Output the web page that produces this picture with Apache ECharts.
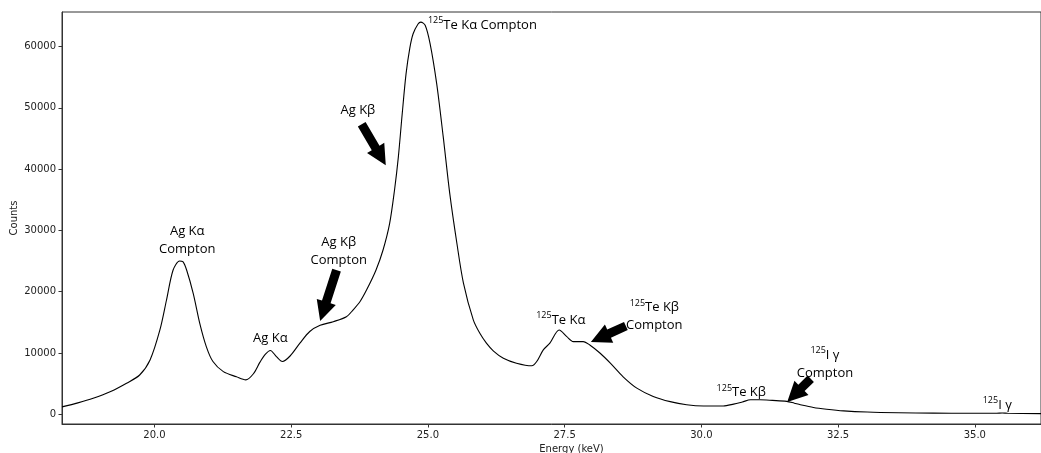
<!DOCTYPE html>
<html><head><meta charset="utf-8">
<script src="https://cdn.jsdelivr.net/npm/echarts@6/dist/echarts.min.js"></script>
<style>html,body{margin:0;padding:0;background:#fff}#c{width:1041px;height:453px}</style>
</head><body><div id="c"></div>
<script>
// Spectrum (energy in keV, counts)
const energy = [18.31,18.6,18.88,19.2,19.49,19.73,19.92,20.10,20.22,20.34,20.46,20.52,20.59,20.71,20.83,20.95,21.07,21.26,21.50,21.67,21.81,21.93,22.03,22.12,22.23,22.34,22.48,22.66,22.84,23.03,23.27,23.51,23.63,23.76,23.88,24.05,24.18,24.30,24.39,24.46,24.53,24.60,24.67,24.73,24.82,24.87,24.95,25.04,25.16,25.28,25.40,25.53,25.65,25.83,25.95,26.07,26.20,26.38,26.62,26.90,26.99,27.11,27.23,27.40,27.54,27.66,27.84,27.96,28.15,28.34,28.57,28.82,29.12,29.43,29.73,30.04,30.40,30.59,30.75,30.90,31.07,31.30,31.56,31.70,31.81,32.05,32.29,32.60,33.03,33.6,34.24,34.9,35.40,35.50,35.60,36.21];
const counts = [1200,1850,2600,3700,5050,6400,8850,13750,18600,23500,25000,24900,23500,19700,14800,11000,8600,6950,6100,5600,6600,8500,9800,10400,9400,8600,9500,11600,13500,14500,15100,15900,17000,18400,20300,23500,26800,31100,36600,42000,49000,55500,59800,62100,63700,64000,63500,60500,54000,45300,36000,27900,21400,15400,13200,11600,10300,9130,8320,7900,8600,10500,11600,13750,12650,11850,11850,11300,9950,8300,6100,4250,2900,2050,1550,1350,1350,1650,2000,2350,2350,2250,2100,1800,1550,1100,820,550,350,230,170,150,160,200,150,100];
const xTicks = [20, 22.5, 25, 27.5, 30, 32.5, 35];
const yTicks = [0, 10000, 20000, 30000, 40000, 50000, 60000];

// Annotation labels (anchor in data coordinates)
const labelTexts = ['Ag Kα\nCompton', 'Ag Kβ\nCompton', 'Ag Kα', 'Ag Kβ', '{s|125}Te Kα Compton', '{s|125}Te Kα', '{s|125}Te Kβ\nCompton', '{s|125}Te Kβ', '{s|125}I γ\nCompton', '{s|125}I γ'];
const labelE = [20.60, 23.37, 22.12, 23.72, 25.00, 27.43, 29.14, 30.73, 32.26, 35.41];
const labelC = [28420, 26630, 12440, 49630, 63470, 15380, 15950, 3520, 8200, 1430];
const labelAlign = ['center','center','center','center','left','center','center','center','center','center'];

// Arrows (tail -> tip, data coordinates)
const arrowTailE = [23.33, 23.79, 28.62, 32.00];
const arrowTailC = [23530, 47330, 14400, 5790];
const arrowTipE = [23.03, 24.23, 27.98, 31.57];
const arrowTipC = [15210, 40650, 11790, 2005];

const chart = echarts.init(document.getElementById('c'), null, {renderer: 'canvas'});
const axisCol = '#333';
chart.setOption({
  animation: false,
  backgroundColor: '#fff',
  grid: {left: 62, right: 0, top: 12, bottom: 29, show: true, borderColor: axisCol, borderWidth: 1, outerBoundsMode: 'none', containLabel: false},
  xAxis: {
    type: 'value', min: 18.31, max: 36.21,
    name: 'Energy (keV)', nameLocation: 'middle', nameGap: 19,
    nameTextStyle: {fontFamily: 'DejaVu Sans', fontSize: 10, color: '#222', padding: [0,0,0,40]},
    axisLine: {show: true, onZero: false, lineStyle: {color: axisCol, width: 1}},
    axisTick: {show: true, length: 3.5, customValues: xTicks, lineStyle: {color: axisCol}},
    axisLabel: {customValues: xTicks, fontFamily: 'DejaVu Sans', fontSize: 10, color: '#222', margin: 6, formatter: v => v.toFixed(1)},
    splitLine: {show: false}
  },
  yAxis: {
    type: 'value', min: -1600, max: 65650,
    name: 'Counts', nameLocation: 'middle', nameGap: 43, nameRotate: 90, nameMoveOverlap: false,
    nameTextStyle: {fontFamily: 'DejaVu Sans', fontSize: 10, color: '#222'},
    axisLine: {show: true, onZero: false, lineStyle: {color: axisCol, width: 1}},
    axisTick: {show: true, length: 3.5, customValues: yTicks, lineStyle: {color: axisCol}},
    axisLabel: {customValues: yTicks, fontFamily: 'DejaVu Sans', fontSize: 10, color: '#222', margin: 6, formatter: v => String(Math.round(v))},
    splitLine: {show: false}
  },
  series: [{
    type: 'line', data: energy.map((e, i) => [e, counts[i]]),
    showSymbol: false, smooth: 0.3,
    lineStyle: {color: '#000', width: 1.1}
  }]
});

const graphics = [];
for (let i = 0; i < labelTexts.length; i++) {
  const p = chart.convertToPixel({gridIndex: 0}, [labelE[i], labelC[i]]);
  graphics.push({
    type: 'text', x: p[0], y: p[1], silent: true,
    style: {
      text: labelTexts[i], fill: '#000', fontFamily: 'Open Sans', fontSize: 13,
      align: labelAlign[i], verticalAlign: 'middle', lineHeight: 18,
      rich: {s: {fontSize: 9, fontFamily: 'Open Sans', verticalAlign: 'top', lineHeight: 18, fill: '#000'}}
    }
  });
}
for (let i = 0; i < arrowTailE.length; i++) {
  const t = chart.convertToPixel({gridIndex: 0}, [arrowTailE[i], arrowTailC[i]]);
  const h = chart.convertToPixel({gridIndex: 0}, [arrowTipE[i], arrowTipC[i]]);
  const dx = h[0] - t[0], dy = h[1] - t[1];
  const L = Math.hypot(dx, dy);
  const ux = dx / L, uy = dy / L, nx = -uy, ny = ux;
  const headLen = 20, headW = 10, sw = 4.5;
  const bx = h[0] - ux * headLen, by = h[1] - uy * headLen;
  const pts = [
    [t[0] + nx * sw, t[1] + ny * sw],
    [bx + nx * sw, by + ny * sw],
    [bx + nx * headW, by + ny * headW],
    [h[0], h[1]],
    [bx - nx * headW, by - ny * headW],
    [bx - nx * sw, by - ny * sw],
    [t[0] - nx * sw, t[1] - ny * sw]
  ];
  graphics.push({type: 'polygon', silent: true, shape: {points: pts}, style: {fill: '#000'}});
}
chart.setOption({graphic: graphics});
</script>
</body></html>
